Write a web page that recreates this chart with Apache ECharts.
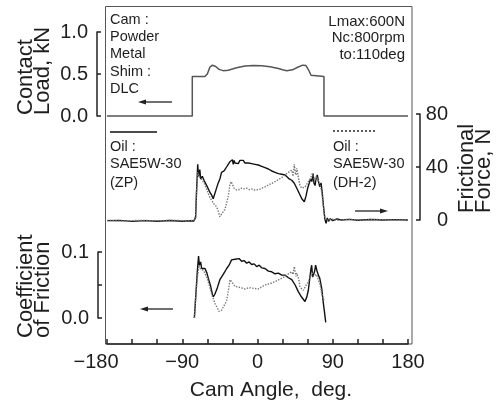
<!DOCTYPE html>
<html><head><meta charset="utf-8">
<script src="https://cdn.jsdelivr.net/npm/echarts@6/dist/echarts.min.js"></script>
<style>html,body{margin:0;padding:0;background:#fff}#c{width:496px;height:405px}</style>
</head><body><div id="c"></div>
<script>
// ---- data ----
const xTickLabels = [-180, -90, 0, 90, 180];
const loadAngle = [-180,-78,-78,-63,-60,-57,-54,-50,-46,-41,-35,-25,-15,-5,5,15,25,30,35,42,48,54,58,61,64,66,79.5,79.5,180];
const loadKN    = [0,0,0.47,0.47,0.5,0.58,0.605,0.59,0.555,0.54,0.545,0.575,0.595,0.6,0.597,0.585,0.565,0.55,0.54,0.55,0.58,0.605,0.6,0.55,0.485,0.47,0.47,0,0];

const forceZPAngle = [-180,-165,-150,-135,-120,-105,-90,-80,-76,-74,-73,-71.5,-70.5,-69,-68,-66,-64,-62.5,-60,-57,-55,-53,-52,-50,-47,-45,-43,-40,-37,-35,-33,-31,-30,-29,-28,-27,-25,-23,-21,-19,-17,-15,-13,-11,-9,-7,-5,-3,-1,1,3,5,7,9,11,13,15,17,19,21,23,25,27,29,31,33,35,38,41,44,47,50,53,56,58,60,62,63.5,65,66.5,67.5,68.8,70,71.5,73,74.5,76,77.5,79,80.5,82,83.5,85,87,90,95,100,110,120,135,150,165,180];
const forceZP      = [-0.5,-0.3,-1,-0.5,-0.9,-0.4,-0.9,-0.6,-0.8,2,20,42,33,38,31,33,30,29,25,21,19,16,17,22,28,31,36,37,40,42,44,43,45.5,42,45,43,44.5,42.5,45,43.5,45,43,44.5,43,44,42.5,44,42,43,41.5,42.8,40.5,41.5,39.5,40,38.5,39,37,37.5,36,36.5,35,35.5,34.5,35,34,34.7,31,30,27.7,24,20,16,13.8,18,24,28,31,29,35,28,26,31,34,29,25,28,20,10,1,-2.5,1.5,-1,1,-0.5,0.8,0,0.5,-0.2,0.4,0,0.3,0];

const forceDHAngle = [-180,-160,-140,-120,-100,-85,-76,-74,-73,-71.5,-70,-68,-66,-64,-62.8,-60,-57,-55,-52,-49,-47,-45,-43,-41,-39,-37,-35,-33,-31.5,-30,-28,-25,-22,-19,-16,-13,-10,-7,-4,-1,2,5,9,13,17,21,25,29,33,37,41,42.5,44,45,46,47,48,49.5,50.8,53,54.8,57,59,60.8,63,65.5,67,68.8,70.5,72.8,75,76.8,78.5,80,81.5,83,85,88,95,110,125,140,160,180];
const forceDH      = [-0.3,-0.8,-0.2,-0.7,-0.2,-0.8,-0.3,3,20,36,33,31.7,30,28,27.7,22,17,15,12,10,7,2.5,4,6.3,8,12.6,18,26.4,29,28,24,22.6,23,24,23.5,24,23,23.5,22.6,22.8,23,24,25,26.5,27.5,29,30.5,32,34,36,37.7,33,42,36,34,39,40,30,26,24,22.6,25,27,29,31,35,32,30,33,32.7,26,21,12,4,0,1,-0.5,0.8,-0.3,0.5,-0.2,0.4,0,0.2];

const muZPAngle = [-75.5,-74,-72,-70.5,-69.5,-68,-66.8,-65,-62.8,-60.5,-58.8,-56,-54,-52.9,-51,-48,-45,-41,-36.8,-34,-31,-29,-27,-25,-22,-19,-16,-13,-10,-7,-4,-1,2,5,9,13,17,21,25,29,33,37,41,45,48.8,52,56.8,59,60.8,62.5,64,64.8,66,67,68.2,69.5,71,72.8,74.5,76.8,78.5,80,81.6];
const muZP      = [0,0.03,0.07,0.094,0.08,0.085,0.075,0.078,0.075,0.068,0.06,0.048,0.036,0.032,0.036,0.046,0.058,0.066,0.075,0.08,0.088,0.085,0.089,0.087,0.09,0.086,0.087,0.083,0.085,0.081,0.082,0.078,0.08,0.076,0.075,0.071,0.07,0.067,0.068,0.065,0.065,0.061,0.058,0.05,0.04,0.033,0.025,0.032,0.042,0.06,0.075,0.08,0.062,0.06,0.07,0.08,0.072,0.065,0.06,0.045,0.025,0.01,-0.0065];

const muDHAngle = [-75.5,-74,-72,-70,-68.5,-66.8,-64.5,-62.8,-60,-56.8,-54,-50.8,-48,-46,-44.9,-43,-40.9,-38.5,-36.8,-35,-32.9,-31,-29.7,-27,-24.9,-20,-15,-10,-5,1,5,9,15,21,27,33,37,41,42.5,44,45,46,47,48,49.5,50.8,53,54.8,57,60.8,63,65.5,67,68.8,70.5,72.8,75,76.8,78.5,79.6];
const muDH      = [0,0.03,0.06,0.08,0.075,0.073,0.072,0.07,0.06,0.045,0.033,0.022,0.015,0.01,0.007,0.012,0.017,0.022,0.027,0.04,0.058,0.056,0.053,0.048,0.045,0.046,0.044,0.046,0.045,0.044,0.047,0.05,0.052,0.055,0.059,0.063,0.067,0.07,0.066,0.078,0.07,0.063,0.068,0.07,0.058,0.047,0.044,0.042,0.047,0.055,0.062,0.068,0.063,0.06,0.066,0.065,0.05,0.037,0.03,0.027];

// ---- chart ----
const zip = (a, b) => a.map((v, i) => [v, b[i]]);
const FF = '"Liberation Sans", Arial, sans-serif';
const TXT = '#1e1e1e';
const AX = '#222';
const chart = echarts.init(document.getElementById('c'), null, {renderer: 'canvas'});

const GL = 107, GW = 301;
const yAxisCommon = {
  type: 'value',
  axisLine: {show: true, onZero: false, lineStyle: {color: AX, width: 1.5}},
  axisTick: {show: true, inside: true, length: 4, lineStyle: {color: AX, width: 1.5}},
  splitLine: {show: false},
  axisLabel: {color: TXT, fontFamily: FF, fontSize: 20, margin: 9}
};

function txt(x, y, text, opts) {
  return {
    type: 'text', x: x, y: y, silent: true,
    style: Object.assign({text: text, fill: TXT, font: '14.5px ' + FF,
      textAlign: 'left', textVerticalAlign: 'middle', align: 'left', verticalAlign: 'middle'}, opts || {})
  };
}
function rtxt(x, y, text) {
  return {
    type: 'text', x: x, y: y, rotation: Math.PI / 2, silent: true,
    style: {text: text, fill: TXT, font: '22px ' + FF, lineHeight: 17,
      textAlign: 'left', textVerticalAlign: 'middle', align: 'left', verticalAlign: 'middle'}
  };
}
function arrow(x1, x2, y) {
  const dir = x2 > x1 ? 1 : -1;
  return [
    {type: 'line', silent: true, shape: {x1: x1, y1: y, x2: x2 - dir * 6, y2: y}, style: {stroke: '#222', lineWidth: 1.3}},
    {type: 'polygon', silent: true, shape: {points: [[x2, y], [x2 - dir * 8, y - 2.5], [x2 - dir * 8, y + 2.5]]}, style: {fill: '#222'}}
  ];
}

const option = {
  animation: false,
  backgroundColor: '#fff',
  grid: [
    {left: GL, width: GW, top: 32, height: 84},
    {left: GL, width: GW, top: 114, height: 106},
    {left: GL, width: GW, top: 252, height: 66}
  ],
  xAxis: [
    {gridIndex: 0, type: 'value', min: -180, max: 180, show: false},
    {gridIndex: 1, type: 'value', min: -180, max: 180, show: false},
    {gridIndex: 2, type: 'value', min: -180, max: 180, interval: 30, offset: 26,
      axisLine: {show: true, onZero: false, lineStyle: {color: AX, width: 1.5}},
      axisTick: {show: true, inside: true, length: 5, lineStyle: {color: AX, width: 1.5}},
      splitLine: {show: false},
      axisLabel: {color: TXT, fontFamily: FF, fontSize: 20, margin: 8,
        formatter: function (v) {
          if (xTickLabels.indexOf(v) < 0) return '';
          const s = v < 0 ? '\u2212' + (-v) : String(v);
          return v === -180 ? '{l|' + s + '}' : s;
        },
        rich: {l: {padding: [0, 22, 0, 0], fontSize: 20, fontFamily: FF, color: TXT}}
      },
      name: 'Cam Angle,  deg.', nameLocation: 'middle', nameGap: 36,
      nameTextStyle: {color: TXT, fontFamily: FF, fontSize: 21, padding: [0, 0, 0, 27]}
    }
  ],
  yAxis: [
    Object.assign({}, yAxisCommon, {gridIndex: 0, min: 0, max: 1, interval: 0.5, offset: 10,
      axisLabel: Object.assign({}, yAxisCommon.axisLabel, {formatter: v => v.toFixed(1)})}),
    Object.assign({}, yAxisCommon, {gridIndex: 1, min: 0, max: 80, interval: 40, position: 'right', offset: 12,
      axisLabel: Object.assign({}, yAxisCommon.axisLabel, {align: 'right', margin: 28})}),
    Object.assign({}, yAxisCommon, {gridIndex: 2, min: 0, max: 0.1, interval: 0.05, offset: 9,
      axisLabel: Object.assign({}, yAxisCommon.axisLabel, {formatter: v => Math.abs(v - 0.05) < 1e-9 ? '' : v.toFixed(1)})})
  ],
  series: [
    {type: 'line', name: 'Contact Load', xAxisIndex: 0, yAxisIndex: 0, data: zip(loadAngle, loadKN),
      showSymbol: false, clip: false, lineStyle: {color: '#555', width: 1.5}},
    {type: 'line', name: 'ZP force', xAxisIndex: 1, yAxisIndex: 1, data: zip(forceZPAngle, forceZP),
      showSymbol: false, clip: false, lineStyle: {color: '#111', width: 1.4}},
    {type: 'line', name: 'DH-2 force', xAxisIndex: 1, yAxisIndex: 1, data: zip(forceDHAngle, forceDH),
      showSymbol: false, clip: false, lineStyle: {color: '#777', width: 1.4, type: 'dotted'}},
    {type: 'line', name: 'ZP mu', xAxisIndex: 2, yAxisIndex: 2, data: zip(muZPAngle, muZP),
      showSymbol: false, clip: false, lineStyle: {color: '#111', width: 1.4}},
    {type: 'line', name: 'DH-2 mu', xAxisIndex: 2, yAxisIndex: 2, data: zip(muDHAngle, muDH),
      showSymbol: false, clip: false, lineStyle: {color: '#777', width: 1.4, type: 'dotted'}}
  ],
  graphic: [
    {type: 'rect', silent: true, shape: {x: 105.5, y: 6.5, width: 306.5, height: 337.5},
      style: {fill: 'none', stroke: '#555', lineWidth: 1}},
    txt(110, 20, 'Cam :'), txt(110, 37, 'Powder'), txt(110, 54, 'Metal'),
    txt(110, 72, 'Shim :'), txt(110, 89, 'DLC'),
    txt(405, 22, 'Lmax:600N', {textAlign: 'right', align: 'right', font: '15px ' + FF}),
    txt(405, 38, 'Nc:800rpm', {textAlign: 'right', align: 'right', font: '15px ' + FF}),
    txt(405, 55, 'to:110deg', {textAlign: 'right', align: 'right', font: '15px ' + FF}),
    {type: 'line', silent: true, shape: {x1: 110, y1: 132, x2: 157, y2: 132}, style: {stroke: '#111', lineWidth: 1.6}},
    txt(110, 147, 'Oil :'), txt(110, 164, 'SAE5W-30'), txt(110, 183, '(ZP)'),
    {type: 'line', silent: true, shape: {x1: 333, y1: 131, x2: 376, y2: 131}, style: {stroke: '#333', lineWidth: 1.6, lineDash: [2, 2]}},
    txt(333, 147, 'Oil :'), txt(333, 164, 'SAE5W-30'), txt(333, 183, '(DH-2)'),
    ...arrow(172, 138, 102),
    ...arrow(173, 140, 309),
    ...arrow(355, 388, 211),
    rtxt(34, 115, 'Contact\nLoad, kN'),
    rtxt(34, 338, 'Coefficient\nof Friction'),
    rtxt(475, 213, 'Frictional\nForce, N')
  ]
};
chart.setOption(option);
</script>
</body></html>
